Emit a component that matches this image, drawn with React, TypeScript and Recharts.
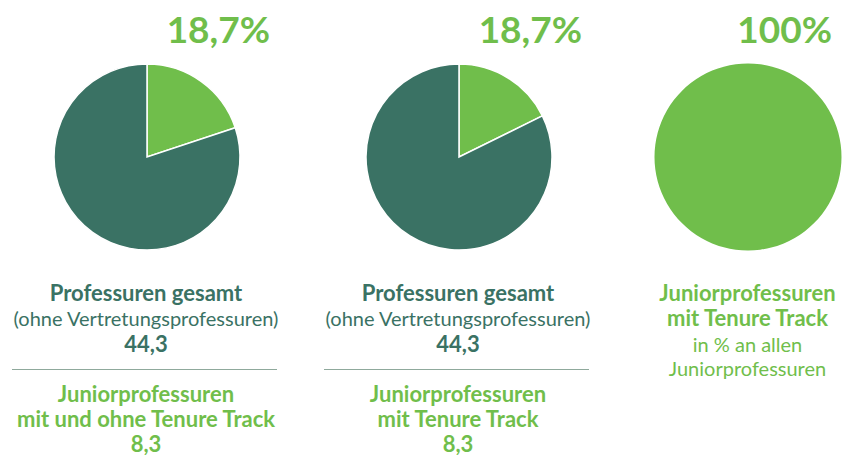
import React from 'react';
import { PieChart, Pie, Cell } from 'recharts';

const sliceNames = ['Juniorprofessuren', 'Übrige Professuren'];
const pie1Values = [19.9, 80.1];
const pie2Values = [17.7, 82.3];
const pie3Names = ['Juniorprofessuren mit Tenure Track'];
const pie3Values = [100];

const headlines = ['18,7%', '18,7%', '100%'];
const topTitle = 'Professuren gesamt';
const topSub = '(ohne Vertretungsprofessuren)';
const topValue = '44,3';
const bottomTitle1 = ['Juniorprofessuren', 'mit und ohne Tenure Track'];
const bottomTitle2 = ['Juniorprofessuren', 'mit Tenure Track'];
const bottomValue = '8,3';
const col3Bold = ['Juniorprofessuren', 'mit Tenure Track'];
const col3Regular = ['in % an allen', 'Juniorprofessuren'];

const DARK = '#3a7264';
const LIGHT = '#70be4b';
const RULE = '#8fa99c';
const FONT = 'Lato, "Open Sans", sans-serif';
const BOLD = 22;
const REG = 20;

const pie1Data = sliceNames.map((name, i) => ({ name, value: pie1Values[i] }));
const pie2Data = sliceNames.map((name, i) => ({ name, value: pie2Values[i] }));
const pie3Data = pie3Names.map((name, i) => ({ name, value: pie3Values[i] }));
const colors = [LIGHT, DARK];

function Column({ cx, bottomLines, lineX1, lineX2 }: { cx: number; bottomLines: string[]; lineX1: number; lineX2: number }) {
  return (
    <g fontFamily={FONT} textAnchor="middle">
      <text x={cx} y={300.5} fontSize={BOLD} fontWeight={700} fill={DARK}>{topTitle}</text>
      <text x={cx} y={326} fontSize={REG} fill={DARK}>{topSub}</text>
      <text x={cx} y={351.5} fontSize={BOLD} fontWeight={700} fill={DARK}>{topValue}</text>
      <line x1={lineX1} x2={lineX2} y1={369.5} y2={369.5} stroke={RULE} strokeWidth={1} />
      <text x={cx} y={401.5} fontSize={BOLD} fontWeight={700} fill={LIGHT}>{bottomLines[0]}</text>
      <text x={cx} y={426.5} fontSize={BOLD} fontWeight={700} fill={LIGHT}>{bottomLines[1]}</text>
      <text x={cx} y={451.5} fontSize={BOLD} fontWeight={700} fill={LIGHT}>{bottomValue}</text>
    </g>
  );
}

export default function App() {
  return (
    <div style={{ position: 'absolute', left: 0, top: 0, width: 843, height: 455, background: '#fff' }}>
      <PieChart width={843} height={455} margin={{ top: 0, right: 0, bottom: 0, left: 0 }}>
        <Pie data={pie1Data} dataKey="value" nameKey="name" cx={147} cy={157} outerRadius={93} startAngle={90} endAngle={-270} stroke="#fff" strokeWidth={1.5} isAnimationActive={false}>
          {pie1Data.map((d, i) => <Cell key={d.name} fill={colors[i]} />)}
        </Pie>
        <Pie data={pie2Data} dataKey="value" nameKey="name" cx={459} cy={157} outerRadius={93} startAngle={90} endAngle={-270} stroke="#fff" strokeWidth={1.5} isAnimationActive={false}>
          {pie2Data.map((d, i) => <Cell key={d.name} fill={colors[i]} />)}
        </Pie>
        <Pie data={pie3Data} dataKey="value" nameKey="name" cx={748} cy={157} outerRadius={93.5} startAngle={90} endAngle={-270} stroke="none" isAnimationActive={false}>
          {pie3Data.map((d) => <Cell key={d.name} fill={LIGHT} />)}
        </Pie>
        <g fontFamily={FONT} fontWeight={700} fontSize={37} fill={LIGHT} textAnchor="end">
          <text x={270} y={43}>{headlines[0]}</text>
          <text x={582} y={43}>{headlines[1]}</text>
          <text x={832} y={43}>{headlines[2]}</text>
        </g>
        <Column cx={146} bottomLines={bottomTitle1} lineX1={12} lineX2={277} />
        <Column cx={458} bottomLines={bottomTitle2} lineX1={324} lineX2={589} />
        <g fontFamily={FONT} textAnchor="middle">
          <text x={747.5} y={300.5} fontSize={BOLD} fontWeight={700} fill={LIGHT}>{col3Bold[0]}</text>
          <text x={747.5} y={325.5} fontSize={BOLD} fontWeight={700} fill={LIGHT}>{col3Bold[1]}</text>
          <text x={747.5} y={352} fontSize={REG} fill={LIGHT}>{col3Regular[0]}</text>
          <text x={747.5} y={376} fontSize={REG} fill={LIGHT}>{col3Regular[1]}</text>
        </g>
      </PieChart>
    </div>
  );
}
